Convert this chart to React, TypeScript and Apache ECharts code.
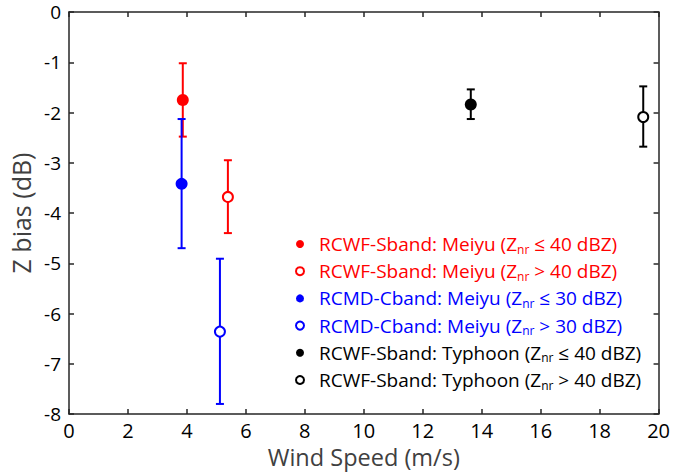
import React, { useEffect, useRef } from "react";
import * as echarts from "echarts";

// Mean Z bias vs. wind speed, with error bars (low / high)
const seriesNames = [
  "RCWF-Sband: Meiyu (Z{s|nr} ≤ 40 dBZ)",
  "RCWF-Sband: Meiyu (Z{s|nr} > 40 dBZ)",
  "RCMD-Cband: Meiyu (Z{s|nr} ≤ 30 dBZ)",
  "RCMD-Cband: Meiyu (Z{s|nr} > 30 dBZ)",
  "RCWF-Sband: Typhoon (Z{s|nr} ≤ 40 dBZ)",
  "RCWF-Sband: Typhoon (Z{s|nr} > 40 dBZ)",
];
const windSpeed = [3.86, 5.39, 3.82, 5.12, 13.63, 19.48];
const zBias = [-1.75, -3.68, -3.42, -6.36, -1.84, -2.09];
const errHigh = [-1.02, -2.95, -2.13, -4.91, -1.54, -1.48];
const errLow = [-2.48, -4.4, -4.7, -7.8, -2.13, -2.68];
const seriesColors = ["#ff0000", "#ff0000", "#0000ff", "#0000ff", "#000000", "#000000"];
const filled = [true, false, true, false, true, false];

const xTicks = { min: 0, max: 20, interval: 2 };
const yTicks = { min: -8, max: 0, interval: 1 };

const FONT = "'Open Sans', 'Noto Sans', sans-serif";
const AXIS_COLOR = "#262626";

export default function App() {
  const ref = useRef<HTMLDivElement>(null);

  useEffect(() => {
    if (!ref.current) return;
    const chart = echarts.init(ref.current, null, { renderer: "svg" });

    const axisCommon = {
      axisLine: { show: true, onZero: false, lineStyle: { color: AXIS_COLOR, width: 1.5 } },
      axisTick: { show: true, inside: true, length: 5, lineStyle: { color: AXIS_COLOR, width: 1.5 } },
      splitLine: { show: false },
    };

    const errorSeries = seriesNames.map((name, i) => ({
      type: "custom",
      name: "err" + i,
      xAxisIndex: 0,
      yAxisIndex: 0,
      z: 2,
      silent: true,
      data: [[windSpeed[i], errLow[i], errHigh[i]]],
      encode: { x: 0, y: [1, 2] },
      renderItem: (_params: any, api: any) => {
        const x = api.value(0);
        const lo = api.coord([x, api.value(1)]);
        const hi = api.coord([x, api.value(2)]);
        const cap = 4;
        const style = { stroke: seriesColors[i], lineWidth: 2 };
        return {
          type: "group",
          children: [
            { type: "line", shape: { x1: lo[0], y1: lo[1], x2: hi[0], y2: hi[1] }, style },
            { type: "line", shape: { x1: lo[0] - cap, y1: lo[1], x2: lo[0] + cap, y2: lo[1] }, style },
            { type: "line", shape: { x1: hi[0] - cap, y1: hi[1], x2: hi[0] + cap, y2: hi[1] }, style },
          ],
        };
      },
    }));

    const pointSeries = seriesNames.map((name, i) => ({
      type: "scatter",
      name,
      xAxisIndex: 0,
      yAxisIndex: 0,
      z: 3,
      symbol: "circle",
      symbolSize: filled[i] ? 12 : 10,
      itemStyle: filled[i]
        ? { color: seriesColors[i], opacity: 1 }
        : { color: "#ffffff", borderColor: seriesColors[i], borderWidth: 2, opacity: 1 },
      data: [[windSpeed[i], zBias[i]]],
    }));

    chart.setOption({
      animation: false,
      backgroundColor: "#ffffff",
      grid: { left: 65.5, right: 13.5, top: 12, bottom: 59, containLabel: false },
      xAxis: [
        {
          type: "value",
          position: "bottom",
          ...xTicks,
          ...axisCommon,
          name: "Wind Speed (m/s)",
          nameLocation: "middle",
          nameGap: 31,
          nameTextStyle: { fontFamily: FONT, fontSize: 23.5, color: "#404040" },
          axisLabel: { margin: 6, fontFamily: FONT, fontSize: 20, color: "#000" },
        },
        {
          type: "value",
          position: "top",
          ...xTicks,
          ...axisCommon,
          axisLabel: { show: false },
        },
      ],
      yAxis: [
        {
          type: "value",
          position: "left",
          ...yTicks,
          ...axisCommon,
          name: "Z bias (dB)",
          nameLocation: "middle",
          nameGap: 36,
          nameTextStyle: { fontFamily: FONT, fontSize: 25, color: "#404040" },
          axisLabel: { margin: 8, fontFamily: FONT, fontSize: 19, lineHeight: 19, color: "#000" },
        },
        {
          type: "value",
          position: "right",
          ...yTicks,
          ...axisCommon,
          axisLabel: { show: false },
        },
      ],
      legend: {
        orient: "vertical",
        left: 290,
        top: 228,
        itemWidth: 28,
        itemHeight: 8,
        itemGap: 5.2,
        selectedMode: false,
        textStyle: {
          fontFamily: FONT,
          fontSize: 19,
          lineHeight: 20,
          rich: {
            s: { fontFamily: FONT, fontSize: 12, lineHeight: 10, padding: [10, 0, 0, 0] },
          },
        },
        data: seriesNames.map((name, i) => ({
          name,
          textStyle: { color: seriesColors[i] },
        })),
      },
      series: [...errorSeries, ...pointSeries],
    });

    return () => chart.dispose();
  }, []);

  return (
    <div
      ref={ref}
      style={{ position: "fixed", left: 0, top: 0, width: 673, height: 474, background: "#fff" }}
    />
  );
}
